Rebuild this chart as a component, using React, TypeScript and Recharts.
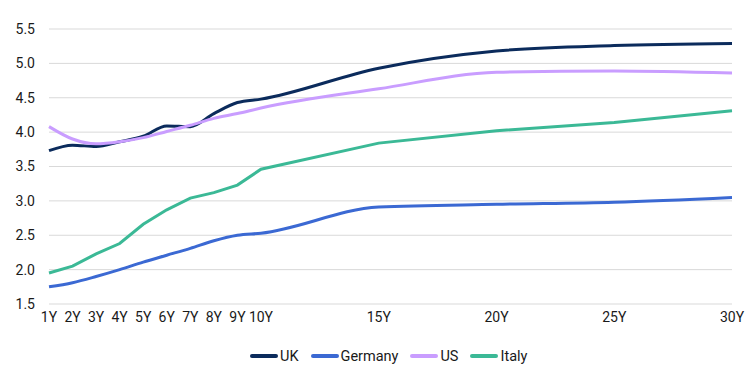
import React from 'react';
import { LineChart, Line, XAxis, YAxis, CartesianGrid, Legend } from 'recharts';

const tenors = [1, 2, 3, 4, 5, 6, 7, 8, 9, 10, 15, 20, 25, 30];
const uk = [3.73, 3.81, 3.79, 3.86, 3.94, 4.09, 4.08, 4.27, 4.43, 4.48, 4.93, 5.18, 5.26, 5.29];
const germany = [1.75, 1.81, 1.9, 2.0, 2.11, 2.21, 2.31, 2.42, 2.5, 2.53, 2.91, 2.95, 2.98, 3.05];
const us = [4.08, 3.9, 3.83, 3.86, 3.92, 4.01, 4.1, 4.2, 4.27, 4.35, 4.63, 4.87, 4.89, 4.86];
const italy = [1.95, 2.05, 2.23, 2.38, 2.66, 2.87, 3.04, 3.12, 3.23, 3.46, 3.84, 4.02, 4.14, 4.31];
const yTicks = [1.5, 2.0, 2.5, 3.0, 3.5, 4.0, 4.5, 5.0, 5.5];

const series = [
  { key: 'uk', name: 'UK', color: '#0b2b5c', curve: 'monotone' },
  { key: 'germany', name: 'Germany', color: '#3b69d3', curve: 'monotone' },
  { key: 'us', name: 'US', color: '#c99dff', curve: 'monotone' },
  { key: 'italy', name: 'Italy', color: '#3bb996', curve: 'linear' },
];

const data = tenors.map((t, i) => ({
  tenor: t,
  uk: uk[i],
  germany: germany[i],
  us: us[i],
  italy: italy[i],
}));

const LegendContent = () => (
  <div
    style={{
      display: 'flex',
      alignItems: 'center',
      height: 44,
      paddingLeft: 248,
      fontFamily: 'Roboto, sans-serif',
      fontSize: 14.5,
      color: '#1a1a1a',
    }}
  >
    {series.map((s) => (
      <div key={s.key} style={{ display: 'flex', alignItems: 'center', marginRight: 10 }}>
        <svg width={30} height={6} style={{ marginRight: 2 }}>
          <line x1={4} y1={3} x2={28} y2={3} stroke={s.color} strokeWidth={4} strokeLinecap="round" />
        </svg>
        <span>{s.name}</span>
      </div>
    ))}
  </div>
);

export default function App() {
  return (
    <div style={{ position: 'absolute', left: 0, top: 0 }}>
      <style>{`body{margin:0}`}</style>
      <LineChart width={756} height={378} data={data} margin={{ top: 29, right: 24, left: 0, bottom: 0 }}>
        <CartesianGrid vertical={false} stroke="#d9d9d9" />
        <XAxis
          dataKey="tenor"
          type="number"
          domain={[1, 30]}
          ticks={tenors}
          interval={0}
          tickFormatter={(v) => `${v}Y`}
          axisLine={false}
          tickLine={false}
          height={30}
          tick={{ fill: '#1a1a1a', fontSize: 14, fontFamily: 'Roboto, sans-serif' }}
        />
        <YAxis
          domain={[1.5, 5.5]}
          ticks={yTicks}
          tickFormatter={(v) => v.toFixed(1)}
          axisLine={false}
          tickLine={false}
          width={49}
          tickMargin={8}
          tick={{ fill: '#1a1a1a', fontSize: 14, fontFamily: 'Roboto, sans-serif' }}
        />
        <Legend verticalAlign="bottom" height={44} content={<LegendContent />} />
        {series.map((s) => (
          <Line
            key={s.key}
            dataKey={s.key}
            name={s.name}
            type={s.curve as any}
            stroke={s.color}
            strokeWidth={3}
            dot={false}
            isAnimationActive={false}
          />
        ))}
      </LineChart>
    </div>
  );
}
